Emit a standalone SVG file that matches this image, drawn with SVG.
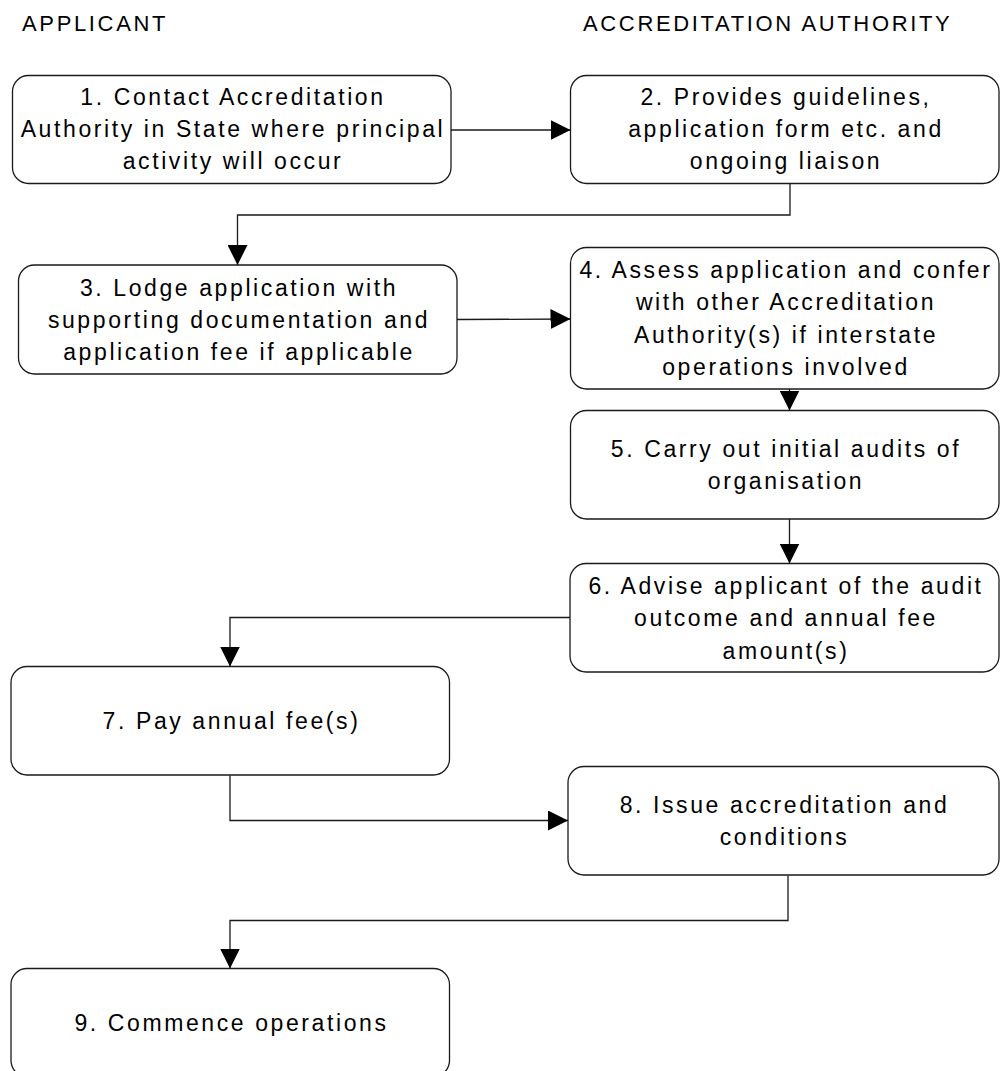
<svg xmlns="http://www.w3.org/2000/svg" width="1000" height="1071" viewBox="0 0 1000 1071">
<style>
.box{fill:#fff;stroke:#1a1a1a;stroke-width:1.3}
.t{font-family:"Liberation Sans",Arial,sans-serif;font-size:23px;letter-spacing:2.6px;fill:#000;text-anchor:middle}
.h{font-family:"Liberation Sans",Arial,sans-serif;font-size:22px;letter-spacing:2.65px;fill:#000}
.c{fill:none;stroke:#1a1a1a;stroke-width:1.3}
</style>
<defs>
<marker id="arr" markerUnits="userSpaceOnUse" markerWidth="20" markerHeight="20" viewBox="0 0 19 19" refX="19" refY="9.5" orient="auto">
<path d="M0,0 L19,9.5 L0,19 Z" fill="#000"/>
</marker>
</defs>
<rect width="1000" height="1071" fill="#fff"/>
<text class="h" x="22" y="31">APPLICANT</text>
<text class="h" x="583" y="31">ACCREDITATION AUTHORITY</text>

<g id="connectors">
<path class="c" d="M451,130 L570.5,130" marker-end="url(#arr)"/>
<path class="c" d="M790,183 L790,215 L237.5,215 L237.5,265" marker-end="url(#arr)"/>
<path class="c" d="M457,319.5 L570.5,319" marker-end="url(#arr)"/>
<path class="c" d="M789.5,389 L789.5,410.5" marker-end="url(#arr)"/>
<path class="c" d="M789.5,519 L789.5,563.5" marker-end="url(#arr)"/>
<path class="c" d="M570,617.5 L230,617.5 L230,666.5" marker-end="url(#arr)"/>
<path class="c" d="M230,775.5 L230,820.5 L568,820.5" marker-end="url(#arr)"/>
<path class="c" d="M788,875.5 L788,920.5 L230,920.5 L230,968.5" marker-end="url(#arr)"/>
</g>

<g id="node1">
<rect class="box" x="12.5" y="75.5" width="438.5" height="108" rx="16"/>
<text class="t" x="233" y="105">1. Contact Accreditation</text>
<text class="t" x="233" y="137">Authority in State where principal</text>
<text class="t" x="233" y="169">activity will occur</text>
</g>
<g id="node2">
<rect class="box" x="570.5" y="75.5" width="428.5" height="108" rx="16"/>
<text class="t" x="786" y="105">2. Provides guidelines,</text>
<text class="t" x="786" y="137">application form etc. and</text>
<text class="t" x="786" y="169">ongoing liaison</text>
</g>
<g id="node3">
<rect class="box" x="18.5" y="265" width="438.5" height="109" rx="16"/>
<text class="t" x="239" y="295.5">3. Lodge application with</text>
<text class="t" x="239" y="327.5">supporting documentation and</text>
<text class="t" x="239" y="359.5">application fee if applicable</text>
</g>
<g id="node4">
<rect class="box" x="570.5" y="247.5" width="428.5" height="141.5" rx="16"/>
<text class="t" x="786" y="277.5">4. Assess application and confer</text>
<text class="t" x="786" y="310">with other Accreditation</text>
<text class="t" x="786" y="342.5">Authority(s) if interstate</text>
<text class="t" x="786" y="375">operations involved</text>
</g>
<g id="node5">
<rect class="box" x="570.5" y="410.5" width="428.5" height="108.5" rx="16"/>
<text class="t" x="786" y="456.5">5. Carry out initial audits of</text>
<text class="t" x="786" y="488.5">organisation</text>
</g>
<g id="node6">
<rect class="box" x="570" y="563.5" width="429" height="108.5" rx="16"/>
<text class="t" x="786" y="593.5">6. Advise applicant of the audit</text>
<text class="t" x="786" y="626">outcome and annual fee</text>
<text class="t" x="786" y="658.5">amount(s)</text>
</g>
<g id="node7">
<rect class="box" x="11" y="666.5" width="438.5" height="108.5" rx="16"/>
<text class="t" x="231.5" y="729">7. Pay annual fee(s)</text>
</g>
<g id="node8">
<rect class="box" x="568" y="766.5" width="431" height="108.5" rx="16"/>
<text class="t" x="784.5" y="813">8. Issue accreditation and</text>
<text class="t" x="784.5" y="845">conditions</text>
</g>
<g id="node9">
<rect class="box" x="11" y="968.5" width="438.5" height="108" rx="16"/>
<text class="t" x="231.5" y="1030.5">9. Commence operations</text>
</g>
</svg>
